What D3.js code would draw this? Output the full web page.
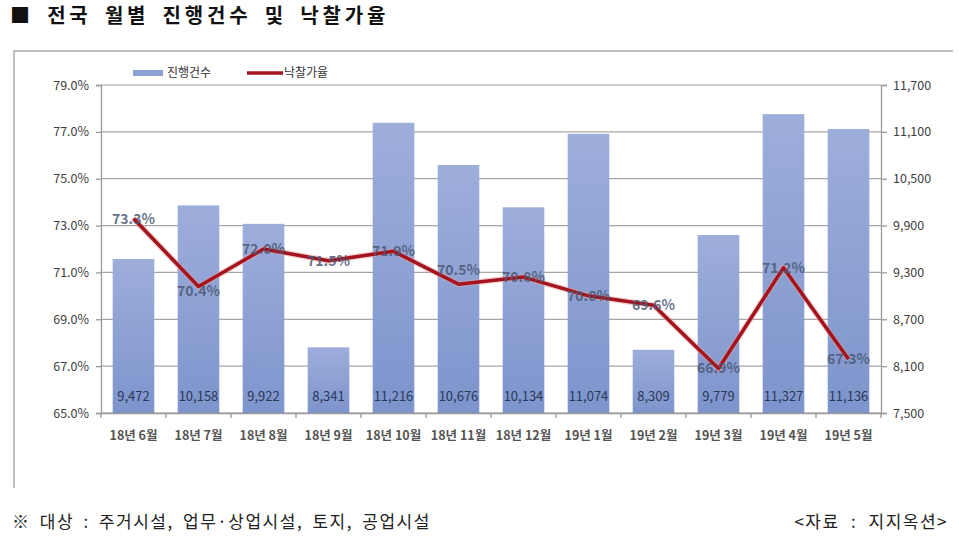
<!DOCTYPE html>
<html>
<head>
<meta charset="utf-8">
<script src="https://cdn.jsdelivr.net/npm/d3@7"></script>
<style>
  body { margin: 0; background: #fff; }
  svg { display: block; font-family: "Noto Sans CJK KR", "Noto Sans", sans-serif; }
</style>
</head>
<body>
<svg id="chart" width="959" height="540"></svg>
<script>
const months = ["18년 6월", "18년 7월", "18년 8월", "18년 9월", "18년 10월", "18년 11월",
  "18년 12월", "19년 1월", "19년 2월", "19년 3월", "19년 4월", "19년 5월"]
const counts = [9472, 10158, 9922, 8341, 11216, 10676, 10134, 11074, 8309, 9779, 11327, 11136]
const rates = [73.3, 70.4, 72.0, 71.5, 71.9, 70.5, 70.8, 70.0, 69.6, 66.9, 71.2, 67.3]
const leftTicks = [65, 67, 69, 71, 73, 75, 77, 79]
const rightTicks = [7500, 8100, 8700, 9300, 9900, 10500, 11100, 11700]

const svg = d3.select("#chart")
const plotL = 101, plotR = 881, plotT = 85, plotB = 413

const x = d3.scaleBand().domain(months).range([plotL, plotR]).paddingInner(0.36).paddingOuter(0.18)
const yL = d3.scaleLinear().domain([65, 79]).range([plotB, plotT])
const yR = d3.scaleLinear().domain([7500, 11700]).range([plotB, plotT])

// gradient for bars
const grad = svg.append("defs").append("linearGradient")
  .attr("id", "barGrad").attr("x1", 0).attr("y1", 0).attr("x2", 0).attr("y2", 1)
grad.append("stop").attr("offset", "0%").attr("stop-color", "#9eaedb")
grad.append("stop").attr("offset", "100%").attr("stop-color", "#7d94cc")

// title
svg.append("text").attr("x", 10).attr("y", 23)
  .attr("font-size", 20).attr("font-weight", "bold").attr("fill", "#111")
  .attr("letter-spacing", 3.8).attr("word-spacing", 5)
  .text("■ 전국 월별 진행건수 및 낙찰가율")

// frame (top and left edge)
svg.append("path").attr("d", "M14,488 V51 H953")
  .attr("fill", "none").attr("stroke", "#aaa").attr("stroke-width", 1.5)

// gridlines
svg.append("g").selectAll("line").data(leftTicks).join("line")
  .attr("x1", plotL).attr("x2", plotR)
  .attr("y1", d => yL(d)).attr("y2", d => yL(d))
  .attr("stroke", "#a6a6a6").attr("stroke-width", 1.2)

// bars
svg.append("g").selectAll("rect").data(counts).join("rect")
  .attr("x", (d, i) => x(months[i]))
  .attr("width", x.bandwidth())
  .attr("y", d => yR(d))
  .attr("height", d => plotB - yR(d))
  .attr("fill", "url(#barGrad)")

svg.append("g").selectAll("text").data(counts).join("text")
  .attr("x", (d, i) => x(months[i]) + x.bandwidth() / 2)
  .attr("y", plotB - 12)
  .attr("text-anchor", "middle")
  .attr("font-size", 13).attr("fill", "#2b3858")
  .text(d => d3.format(",")(d))

// axes
const axisL = svg.append("g").attr("transform", `translate(${plotL},0)`)
  .call(d3.axisLeft(yL).tickValues(leftTicks).tickSize(5).tickFormat(d => d.toFixed(1) + "%"))
const axisR = svg.append("g").attr("transform", `translate(${plotR},0)`)
  .call(d3.axisRight(yR).tickValues(rightTicks).tickSize(6).tickFormat(d3.format(",")))
const axisB = svg.append("g").attr("transform", `translate(0,${plotB})`)
  .call(d3.axisBottom(x).tickSize(0).tickPadding(18))

for (const a of [axisL, axisR, axisB]) {
  a.select(".domain").attr("stroke", "#999").attr("stroke-width", 1.3)
  a.selectAll(".tick line").attr("stroke", "#999").attr("stroke-width", 1.3)
  a.selectAll("text").attr("fill", "#404040").attr("font-size", 12.5)
    .attr("font-family", "\"Noto Sans CJK KR\", sans-serif")
}
axisL.selectAll("text").attr("dx", -4)
axisR.selectAll("text").attr("dx", 3)
axisB.selectAll("text").attr("font-size", 12.5).attr("font-weight", "bold").attr("fill", "#555")

// category boundary ticks along bottom
svg.append("g").selectAll("line").data(d3.range(months.length + 1)).join("line")
  .attr("x1", i => plotL + i * (plotR - plotL) / months.length)
  .attr("x2", i => plotL + i * (plotR - plotL) / months.length)
  .attr("y1", plotB).attr("y2", plotB + 5)
  .attr("stroke", "#999").attr("stroke-width", 1.3)

// line
const cx = i => x(months[i]) + x.bandwidth() / 2
const line = d3.line().x((d, i) => cx(i)).y(d => yL(d))
svg.append("path").datum(rates).attr("d", line)
  .attr("fill", "none").attr("stroke", "#e8a0a0").attr("stroke-width", 6).attr("opacity", 0.5)
svg.append("path").datum(rates).attr("d", line)
  .attr("fill", "none").attr("stroke", "#a3141f").attr("stroke-width", 3.5)
  .attr("stroke-linejoin", "round")

// labels sit on the points; 70.5% is lifted above the line, 70.4% sits a bit lower
svg.append("g").selectAll("text").data(rates).join("text")
  .attr("x", (d, i) => cx(i))
  .attr("y", (d, i) => yL(d) + 5 + (i === 5 ? -14 : i === 1 ? 5 : 0))
  .attr("text-anchor", "middle")
  .attr("font-size", 14).attr("font-weight", "bold").attr("fill", "#4b5873")
  .attr("fill-opacity", 0.85)
  .text(d => d.toFixed(1) + "%")

// legend
const lg = svg.append("g").attr("transform", "translate(133,73)")
lg.append("rect").attr("x", 0).attr("y", -3).attr("width", 30).attr("height", 6).attr("fill", "#8da1d4")
lg.append("text").attr("x", 34).attr("y", 4).attr("font-size", 12).attr("fill", "#333").text("진행건수")
lg.append("line").attr("x1", 114).attr("x2", 150).attr("y1", 0).attr("y2", 0)
  .attr("stroke", "#a3141f").attr("stroke-width", 3.5)
lg.append("text").attr("x", 151).attr("y", 4).attr("font-size", 12).attr("fill", "#333").text("낙찰가율")

// footer
svg.append("text").attr("x", 12).attr("y", 528).attr("font-size", 17).attr("fill", "#222")
  .attr("letter-spacing", 1.5).attr("word-spacing", 4)
  .text("※ 대상 : 주거시설, 업무·상업시설, 토지, 공업시설")
svg.append("text").attr("x", 948).attr("y", 528).attr("text-anchor", "end")
  .attr("font-size", 17).attr("fill", "#222")
  .attr("letter-spacing", 1.5).attr("word-spacing", 6)
  .text("<자료 : 지지옥션>")
</script>
</body>
</html>
